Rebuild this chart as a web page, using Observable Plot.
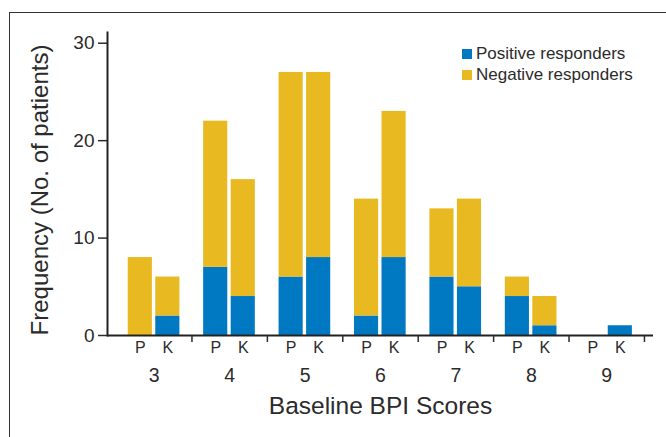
<!DOCTYPE html>
<html><head><meta charset="utf-8">
<script src="https://cdn.jsdelivr.net/npm/d3@7"></script>
<script src="https://cdn.jsdelivr.net/npm/@observablehq/plot@0.6"></script>
<style>
body{margin:0;width:666px;height:437px;overflow:hidden;background:#fff;font-family:"Liberation Sans",Arial,sans-serif;}
#wrap{position:relative;width:666px;height:437px;overflow:hidden;}
#border{position:absolute;left:9px;top:12px;width:700px;height:500px;border-left:1.5px solid #333;border-top:1.5px solid #333;}
#chart{position:absolute;left:0;top:0;}
#legend{position:absolute;left:462px;top:43px;}
#legend .lg-swatches{font-family:"Liberation Sans",Arial,sans-serif !important;font-size:17px !important;color:#2b2b2b;margin:0 !important;}
#legend .lg-swatch{padding:0 !important;line-height:21px !important;height:21px;}
#legend .lg-swatch svg{margin-right:4px !important;}
</style></head><body>
<div id="wrap"><div id="border"></div><div id="chart"></div><div id="legend"></div></div>
<script>
// ---- data ----
const scores = [3, 4, 5, 6, 7, 8, 9];
const arms = ["P", "K"];
const positiveP = [0, 7, 6, 2, 6, 4, 0];
const totalP    = [8, 22, 27, 14, 13, 6, 0];
const positiveK = [2, 4, 8, 8, 5, 1, 1];
const totalK    = [6, 16, 27, 23, 14, 4, 1];
const responseTypes = ["Positive responders", "Negative responders"];
const colors = ["#0079c2", "#e8b921"];
const yTicks = [0, 10, 20, 30];
const xTitle = "Baseline BPI Scores";
const yTitle = "Frequency (No. of patients)";

// ---- layout of bars within a score group (style, not data) ----
const armOffset = {P: -0.185, K: 0.18};
const halfBar = 0.16;

const rows = [];
scores.forEach((s, i) => {
  const byArm = {P: [positiveP[i], totalP[i]], K: [positiveK[i], totalK[i]]};
  arms.forEach(arm => {
    const [pos, tot] = byArm[arm];
    rows.push({score: s, arm, type: responseTypes[0], value: pos});
    rows.push({score: s, arm, type: responseTypes[1], value: tot - pos});
  });
});
const armLabels = scores.flatMap(s => arms.map(arm => ({score: s, arm})));
const textColor = "#2b2b2b";

const plot = Plot.plot({
  width: 666, height: 437,
  marginLeft: 107, marginRight: 13, marginTop: 32, marginBottom: 102,
  x: {domain: [2.38, 9.62], axis: null},
  y: {domain: [0, 31.1], axis: null},
  color: {domain: responseTypes, range: colors},
  style: {fontFamily: '"Liberation Sans", Arial, sans-serif', color: textColor, background: "transparent", overflow: "visible"},
  marks: [
    Plot.rectY(rows, Plot.stackY({
      x1: d => d.score + armOffset[d.arm] - halfBar,
      x2: d => d.score + armOffset[d.arm] + halfBar,
      y: "value", fill: "type"
    })),
    Plot.axisY(yTicks, {tickSize: 9, tickPadding: 4, fontSize: 19, label: null, strokeWidth: 1.5, fill: textColor}),
    Plot.frame({anchor: "left", strokeWidth: 2, stroke: "#222"}),
    Plot.ruleY([0], {strokeWidth: 2, stroke: "#222"}),
    Plot.axisX(scores.map(s => s + 0.5), {tickSize: 7, tickFormat: () => "", strokeWidth: 1.5, label: null}),
    Plot.text(armLabels, {x: d => d.score + armOffset[d.arm], text: "arm", frameAnchor: "bottom", dy: 17, fontSize: 16, fill: textColor}),
    Plot.axisX(scores, {tickSize: 0, tickPadding: 33, fontSize: 19.5, tickFormat: d => String(d), label: null, fill: textColor}),
    Plot.text([xTitle], {frameAnchor: "bottom", dy: 78, fontSize: 24.5, fill: textColor}),
    Plot.text([yTitle], {frameAnchor: "left", textAnchor: "middle", dx: -67, dy: 6, rotate: -90, fontSize: 24, fill: textColor})
  ]
});
document.getElementById("chart").appendChild(plot);
const legend = plot.legend("color", {columns: 1, swatchSize: 10, className: "lg"});
document.getElementById("legend").appendChild(legend);
</script>
</body></html>
